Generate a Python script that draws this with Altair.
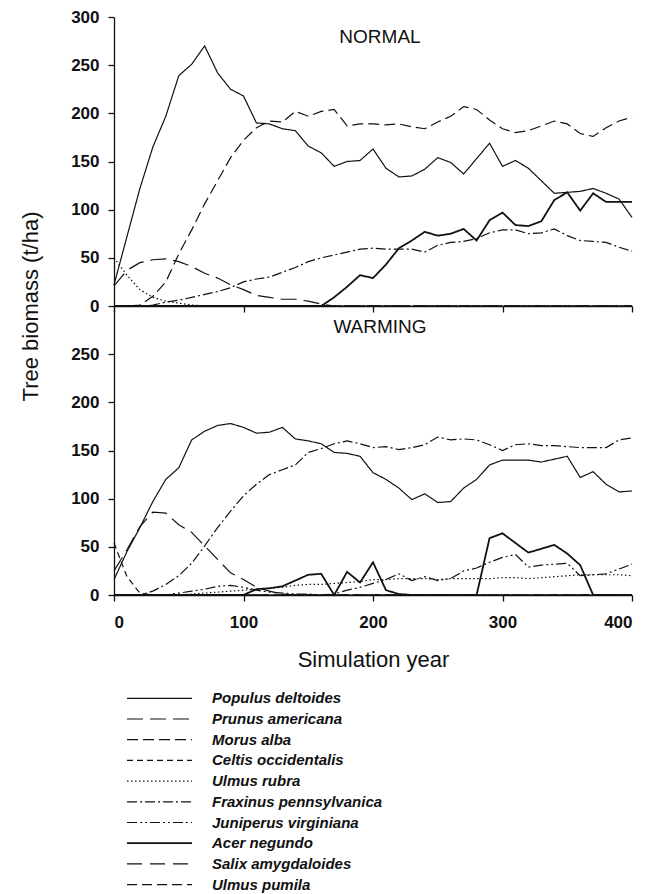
import altair as alt
import pandas as pd

FONT = "Liberation Sans"
INK = "#111111"

years = list(range(0, 401, 10))
x_ticks = [0, 100, 200, 300, 400]
y_ticks_top = [0, 50, 100, 150, 200, 250, 300]
y_ticks_bottom = [0, 50, 100, 150, 200, 250]
panels = ["NORMAL", "WARMING"]
x_title = "Simulation year"
y_title = "Tree biomass (t/ha)"

species = ["Populus deltoides", "Prunus americana", "Morus alba", "Celtis occidentalis",
           "Ulmus rubra", "Fraxinus pennsylvanica", "Juniperus virginiana", "Acer negundo",
           "Salix amygdaloides", "Ulmus pumila"]

# ---- NORMAL scenario (t/ha, every 10 years 0..400) ----
populus_n = [22, 72, 122, 165, 197, 239, 251, 270, 242, 225, 218, 190, 189, 184, 182, 166, 159, 145, 150, 151,
             163, 143, 134, 135, 142, 154, 149, 137, 153, 169, 145, 151, 143, 130, 117, 118, 119, 122, 117, 111, 92]
prunus_n = [21, 37, 45, 48, 49, 46, 41, 34, 29, 22, 17, 11, 9, 7, 7, 5, 2, 0, 0, 0,
            0, 0, 0, 0, 0, 0, 0, 0, 0, 0, 0, 0, 0, 0, 0, 0, 0, 0, 0, 0, 0]
morus_n = [0, 0, 1, 10, 25, 54, 79, 106, 130, 154, 172, 185, 192, 191, 202, 197, 202, 204, 187, 189,
           189, 188, 189, 186, 184, 191, 197, 207, 204, 193, 184, 180, 182, 187, 192, 189, 179, 176, 185, 192, 196]
celtis_n = [0] * 41
ulmus_rubra_n = [50, 32, 17, 9, 5, 3, 1, 0, 0, 0, 0, 0, 0, 0, 0, 0, 0, 0, 0, 0,
                 0, 0, 0, 0, 0, 0, 0, 0, 0, 0, 0, 0, 0, 0, 0, 0, 0, 0, 0, 0, 0]
fraxinus_n = [0, 0, 0, 1, 4, 6, 9, 12, 15, 19, 25, 28, 30, 35, 40, 46, 50, 53, 56, 59,
              60, 59, 59, 59, 56, 63, 66, 67, 70, 76, 79, 79, 75, 76, 80, 73, 68, 67, 66, 61, 57]
juniperus_n = [0] * 41
acer_n = [0, 0, 0, 0, 0, 0, 0, 0, 0, 0, 0, 0, 0, 0, 0, 0, 0, 9, 20, 32,
          29, 43, 60, 68, 77, 73, 75, 80, 68, 89, 97, 84, 83, 88, 110, 118, 99, 117, 108, 108, 108]
salix_n = [0] * 41
ulmus_pumila_n = [0] * 41

# ---- WARMING scenario ----
populus_w = [16, 45, 70, 97, 120, 132, 161, 170, 176, 178, 174, 168, 169, 174, 162, 160, 157, 148, 147, 144,
             127, 120, 111, 99, 105, 96, 97, 111, 120, 135, 140, 140, 140, 138, 141, 144, 122, 128, 115, 107, 108]
prunus_w = [25, 47, 71, 86, 85, 73, 65, 51, 37, 23, 16, 8, 4, 1, 0, 0, 0, 0, 0, 0,
            0, 0, 0, 0, 0, 0, 0, 0, 0, 0, 0, 0, 0, 0, 0, 0, 0, 0, 0, 0, 0]
morus_w = [0] * 41
celtis_w = [54, 19, 2, 0, 0, 0, 0, 0, 0, 0, 0, 0, 0, 0, 0, 0, 0, 0, 0, 0,
            0, 0, 0, 0, 0, 0, 0, 0, 0, 0, 0, 0, 0, 0, 0, 0, 0, 0, 0, 0, 0]
ulmus_rubra_w = [0, 0, 0, 0, 0, 0, 1, 2, 3, 4, 5, 6, 7, 8, 10, 11, 11, 12, 13, 14,
                 16, 16, 17, 17, 17, 16, 17, 17, 17, 17, 18, 18, 17, 18, 19, 20, 21, 21, 21, 21, 20]
fraxinus_w = [0, 0, 0, 4, 11, 20, 33, 51, 70, 87, 103, 115, 125, 130, 135, 148, 152, 157, 160, 157,
              153, 154, 151, 153, 156, 164, 161, 162, 161, 156, 150, 156, 157, 155, 155, 154, 153, 153, 153, 161, 163]
juniperus_w = [0, 0, 0, 0, 0, 2, 4, 6, 9, 10, 8, 5, 3, 2, 1, 1, 0, 1, 5, 8,
               12, 16, 22, 15, 19, 15, 17, 25, 28, 34, 39, 42, 29, 31, 32, 33, 20, 21, 22, 27, 32]
acer_w = [0, 0, 0, 0, 0, 0, 0, 0, 0, 0, 0, 6, 7, 9, 15, 21, 22, 0, 24, 13,
          34, 5, 1, 0, 0, 0, 0, 0, 0, 59, 64, 54, 44, 48, 52, 43, 31, 0, 0, 0, 0]
salix_w = [0] * 41
ulmus_pumila_w = [0] * 41

normal = [populus_n, prunus_n, morus_n, celtis_n, ulmus_rubra_n, fraxinus_n, juniperus_n, acer_n, salix_n, ulmus_pumila_n]
warming = [populus_w, prunus_w, morus_w, celtis_w, ulmus_rubra_w, fraxinus_w, juniperus_w, acer_w, salix_w, ulmus_pumila_w]

dashes = [[1, 0], [16, 7], [11, 5], [6, 4], [1.5, 2.5], [10, 3, 2, 3], [10, 3, 2, 3, 2, 3], [1, 0], [15, 8], [10, 5]]

rows = []
for panel_name, series in zip(panels, [normal, warming]):
    for sp, vals in zip(species, series):
        for yr, v in zip(years, vals):
            rows.append({"panel": panel_name, "species": sp, "year": yr, "biomass": v})
df = pd.DataFrame(rows)

W, H = 518, 289
dash_enc = alt.StrokeDash("species:N", scale=alt.Scale(domain=species, range=dashes), legend=None)
width_enc = alt.condition("datum.species == 'Acer negundo'", alt.value(1.8), alt.value(1.2))


def panel(name, yvals, bottom, label_y):
    d = df[df["panel"] == name]
    if bottom:
        xaxis = alt.Axis(values=x_ticks, title=x_title, labelPadding=13, titlePadding=19)
        yaxis = alt.Axis(values=yvals, title=None, labelPadding=9)
    else:
        xaxis = alt.Axis(values=x_ticks, title=None, labels=False)
        yaxis = alt.Axis(values=yvals, title=y_title, labelPadding=9, titleX=-84, titleY=H,
                         titleAlign="center", titleBaseline="middle", titleAngle=270)
    lines = alt.Chart(d).mark_line(color=INK).encode(
        x=alt.X("year:Q", scale=alt.Scale(domain=[0, 400], nice=False), axis=xaxis),
        y=alt.Y("biomass:Q", scale=alt.Scale(domain=[0, 300], nice=False), axis=yaxis),
        detail="species:N",
        strokeDash=dash_enc,
        strokeWidth=width_enc,
    )
    lab = alt.Chart(pd.DataFrame({"label": [name]})).mark_text(
        font=FONT, fontSize=19, color=INK, align="center", baseline="alphabetic"
    ).encode(x=alt.value(266), y=alt.value(label_y), text="label:N")
    return alt.layer(lines, lab).properties(width=W, height=H)


top = panel("NORMAL", y_ticks_top, False, 26)
bottom = panel("WARMING", y_ticks_bottom, True, 27)

# legend block sits below the x-axis title: rows 20.7 px apart, first row 103 px below the bottom panel
leg_df = pd.DataFrame({"species": species})
leg_y = alt.Y("species:N", axis=None,
              scale=alt.Scale(type="point", domain=species, range=[103.3, 289.6], padding=0))
leg_rules = alt.Chart(leg_df).mark_rule(color=INK).encode(
    x=alt.value(13), x2=alt.value(78), y=leg_y, strokeDash=dash_enc, strokeWidth=width_enc
)
leg_text = alt.Chart(leg_df).mark_text(
    font=FONT, fontSize=15, fontStyle="italic", fontWeight="bold", color=INK, align="left", baseline="middle"
).encode(x=alt.value(98), y=leg_y, text="species:N")
legend = alt.layer(leg_rules, leg_text).properties(width=W, height=292)

chart = alt.vconcat(top, bottom, legend, spacing=0, bounds="flush").properties(
    padding={"left": 11, "top": 0, "right": 5, "bottom": 0}
).configure_view(stroke=None).configure_axis(
    grid=False, domainColor=INK, tickColor=INK, labelColor=INK, titleColor=INK,
    labelFont=FONT, titleFont=FONT, labelFontSize=17, labelFontWeight="bold",
    titleFontSize=22, titleFontWeight="normal", tickSize=6, domainWidth=1.3, tickWidth=1.3
)

chart.save("out.html", embed_options={"renderer": "svg", "actions": False})
